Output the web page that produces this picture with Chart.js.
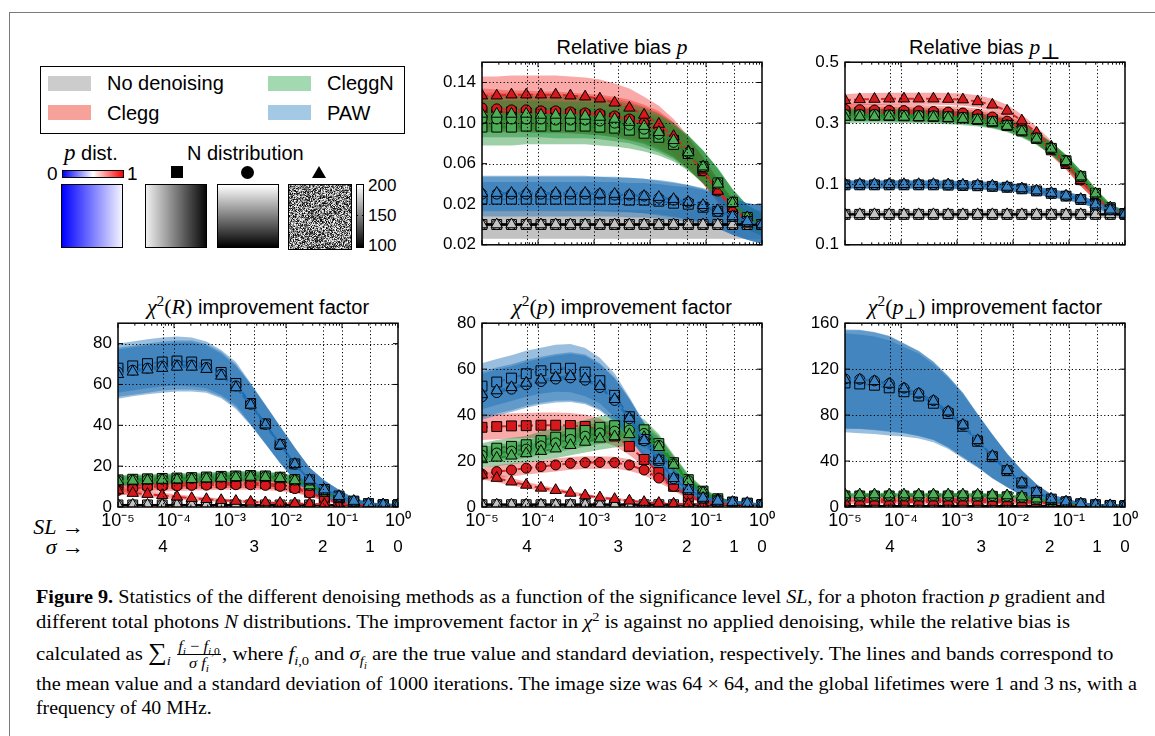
<!DOCTYPE html>
<html>
<head>
<meta charset="utf-8">
<script src="https://cdn.jsdelivr.net/npm/chart.js@4.4.1/dist/chart.umd.min.js"></script>
<style>
  html, body { margin:0; padding:0; background:#fff; }
  body { width:1155px; height:736px; position:relative; overflow:hidden; font-family:"Liberation Sans", Arial, sans-serif; color:#000; }
  .abs { position:absolute; }
  canvas.chart { position:absolute; }
  .frame { position:absolute; left:9px; top:12px; width:1300px; height:900px; border-left:1px solid #7a7a7a; border-top:1px solid #7a7a7a; }
  .lgbox { position:absolute; left:40px; top:66px; width:363px; height:66px; border:1px solid #000; }
  .sw { position:absolute; width:43px; height:15px; }
  .lgt { position:absolute; font-size:20px; line-height:24px; white-space:nowrap; }
  .m { font-family:"Liberation Serif", "DejaVu Serif", serif; }
  .title { position:absolute; width:400px; text-align:center; font-size:20px; line-height:24px; white-space:nowrap; }
  .title .m { font-size:22px; }
  sup, sub { line-height:0; font-size:70%; }
  .sq { position:absolute; border:1px solid #000; box-sizing:border-box; }
  .cap { position:absolute; left:36px; font-family:"Liberation Serif", "DejaVu Serif", serif; font-size:19px; line-height:24px; white-space:nowrap; transform-origin:0 50%; }
  .frac { display:inline-block; vertical-align:middle; text-align:center; font-size:15px; line-height:16px; margin:0 1px; position:relative; top:-1px; }
  .frac .num { display:block; border-bottom:1px solid #000; padding:0 1px; }
  .frac .den { display:block; }
  .sum { font-size:24px; }
</style>
</head>
<body>
<div class="frame"></div>

<!-- legend -->
<div class="lgbox"></div>
<div class="sw" style="left:48px;top:76px;background:#cccccc"></div>
<div class="lgt" style="left:107px;top:71px">No denoising</div>
<div class="sw" style="left:48px;top:105px;background:#f7a19b"></div>
<div class="lgt" style="left:107px;top:101px">Clegg</div>
<div class="sw" style="left:268px;top:76px;background:#a2d9b0"></div>
<div class="lgt" style="left:327px;top:71px">CleggN</div>
<div class="sw" style="left:268px;top:105px;background:#a3c9e4"></div>
<div class="lgt" style="left:327px;top:101px">PAW</div>

<!-- p distribution -->
<div class="lgt" style="left:64px;top:141px"><i class="m" style="font-size:23px">p</i> dist.</div>
<div class="lgt" style="left:47px;top:162px;font-size:19px">0</div>
<div class="sq" style="left:62px;top:170px;width:62px;height:8px;background:linear-gradient(to right,#0000ff,#ffffff,#ff0000)"></div>
<div class="lgt" style="left:127px;top:162px;font-size:19px">1</div>
<div class="sq" style="left:61px;top:184px;width:62px;height:64px;background:linear-gradient(to right,#0000ff,#f3f3ff)"></div>

<!-- N distribution -->
<div class="lgt" style="left:187px;top:141px">N distribution</div>
<div class="abs" style="left:171px;top:166px;width:12px;height:12px;background:#000"></div>
<div class="abs" style="left:241px;top:166px;width:13px;height:13px;background:#000;border-radius:50%"></div>
<div class="abs" style="left:312px;top:166px;width:0;height:0;border-left:7px solid transparent;border-right:7px solid transparent;border-bottom:12px solid #000"></div>
<div class="sq" style="left:145px;top:184px;width:62px;height:64px;background:linear-gradient(to right,#f0f0f0,#080808)"></div>
<div class="sq" style="left:217px;top:184px;width:62px;height:64px;background:linear-gradient(to bottom,#ffffff,#000000)"></div>
<canvas id="noise" width="62" height="64" class="abs" style="left:288px;top:184px;border:1px solid #000;box-sizing:border-box"></canvas>
<div class="sq" style="left:356px;top:184px;width:8px;height:64px;background:linear-gradient(to bottom,#ffffff,#000000)"></div>
<div class="abs" style="left:356px;top:215px;width:2px;height:1px;background:#000"></div>
<div class="abs" style="left:362px;top:215px;width:2px;height:1px;background:#000"></div>
<div class="lgt" style="left:368px;top:174px;font-size:17px">200</div>
<div class="lgt" style="left:368px;top:204px;font-size:17px">150</div>
<div class="lgt" style="left:368px;top:234px;font-size:17px">100</div>

<!-- panel titles -->
<div class="title" style="left:422px;top:35px">Relative bias <i class="m">p</i></div>
<div class="title" style="left:785px;top:35px">Relative bias <i class="m">p</i><sub class="m">⊥</sub></div>
<div class="title" style="left:58px;top:295px"><span class="m"><i>χ</i><sup>2</sup>(<i>R</i>)</span> improvement factor</div>
<div class="title" style="left:422px;top:295px"><span class="m"><i>χ</i><sup>2</sup>(<i>p</i>)</span> improvement factor</div>
<div class="title" style="left:785px;top:295px"><span class="m"><i>χ</i><sup>2</sup>(<i>p</i><sub>⊥</sub>)</span> improvement factor</div>

<!-- axis row labels -->
<div class="lgt m" style="left:30px;top:515px;width:54px;text-align:right;font-size:22px"><i>SL</i> →</div>
<div class="lgt m" style="left:30px;top:535px;width:54px;text-align:right;font-size:22px"><i>σ</i> →</div>

<!-- charts -->
<canvas id="cP"  class="chart" width="364" height="215" style="left:422px;top:46px"></canvas>
<canvas id="cPp" class="chart" width="364" height="215" style="left:785px;top:46px"></canvas>
<canvas id="cR"  class="chart" width="364" height="252" style="left:58px;top:307px"></canvas>
<canvas id="cXp" class="chart" width="364" height="252" style="left:422px;top:307px"></canvas>
<canvas id="cXpp" class="chart" width="364" height="252" style="left:785px;top:307px"></canvas>

<!-- caption -->
<div class="cap" data-w="1069" style="top:585px"><b>Figure 9.</b> Statistics of the different denoising methods as a function of the significance level <i>SL</i>, for a photon fraction <i>p</i> gradient and</div>
<div class="cap" data-w="1034" style="top:610px">different total photons <i>N</i> distributions. The improvement factor in <i>χ</i><sup>2</sup> is against no applied denoising, while the relative bias is</div>
<div class="cap" data-w="1077" style="top:639px">calculated as <span class="sum">∑</span><sub><i>i</i></sub> <span class="frac"><span class="num"><i>f</i><sub><i>i</i></sub> − <i>f</i><sub><i>i</i>,0</sub></span><span class="den"><i>σ</i> <i>f</i><sub><i>i</i></sub></span></span>, where <i>f</i><sub><i>i</i>,0</sub> and <i>σ</i><sub><i>f</i><sub><i>i</i></sub></sub> are the true value and standard deviation, respectively. The lines and bands correspond to</div>
<div class="cap" data-w="1101" style="top:672px">the mean value and a standard deviation of 1000 iterations. The image size was 64 × 64, and the global lifetimes were 1 and 3 ns, with a</div>
<div class="cap" data-w="176" style="top:696px">frequency of 40 MHz.</div>

<script>
// ---------------- data ----------------
const SL = [1e-5, 1.833e-5, 3.360e-5, 6.158e-5, 1.129e-4, 2.069e-4, 3.793e-4, 6.952e-4, 1.274e-3, 2.336e-3,
            4.281e-3, 7.848e-3, 1.438e-2, 2.637e-2, 4.833e-2, 8.859e-2, 0.1624, 0.2976, 0.5456, 1];
const DECADES = [1e-5, 1e-4, 1e-3, 1e-2, 1e-1, 1];
const DECADE_LABELS = ['10⁻⁵', '10⁻⁴', '10⁻³', '10⁻²', '10⁻¹', '10⁰'];
const SIGMA_SL = [6.334e-5, 2.700e-3, 4.550e-2, 0.3173, 1];
const SIGMA_LABELS = ['4', '3', '2', '1', '0'];

// Relative bias p
const biasP_ticks = [-0.02, 0.02, 0.06, 0.10, 0.14];
const biasP_tickLabels = ['0.02', '0.02', '0.06', '0.10', '0.14'];
const biasP_none = [0,0,0,0,0,0,0,0,0,0,0,0,0,0,0,0,0,0,0,0];
const biasP_clegg_sq = [0.111,0.111,0.111,0.110,0.110,0.110,0.109,0.108,0.107,0.105,0.102,0.098,0.092,0.083,0.070,0.053,0.034,0.017,0.005,0.000];
const biasP_clegg_ci = [0.115,0.114,0.113,0.113,0.112,0.112,0.111,0.110,0.109,0.107,0.104,0.100,0.094,0.084,0.070,0.053,0.033,0.016,0.005,0.000];
const biasP_clegg_tr = [0.127,0.127,0.128,0.128,0.128,0.128,0.127,0.126,0.124,0.120,0.115,0.108,0.099,0.087,0.072,0.054,0.033,0.015,0.004,0.000];
const biasP_cleggn_sq = [0.096,0.096,0.096,0.097,0.097,0.097,0.097,0.097,0.096,0.095,0.093,0.090,0.086,0.079,0.070,0.057,0.041,0.022,0.007,0.000];
const biasP_cleggn_ci = [0.104,0.104,0.104,0.104,0.104,0.103,0.103,0.103,0.102,0.100,0.098,0.094,0.089,0.081,0.071,0.057,0.040,0.022,0.007,0.000];
const biasP_cleggn_tr = [0.109,0.109,0.109,0.109,0.108,0.108,0.108,0.107,0.106,0.104,0.101,0.097,0.091,0.083,0.071,0.057,0.040,0.021,0.007,0.000];
const biasP_paw_sq = [0.025,0.025,0.025,0.025,0.025,0.025,0.025,0.025,0.025,0.025,0.024,0.024,0.023,0.021,0.020,0.017,0.013,0.008,0.003,0.000];
const biasP_paw_ci = [0.030,0.030,0.030,0.030,0.030,0.030,0.030,0.030,0.030,0.029,0.029,0.028,0.026,0.024,0.022,0.018,0.013,0.008,0.003,0.000];
const biasP_paw_tr = [0.031,0.031,0.031,0.031,0.031,0.031,0.031,0.031,0.030,0.030,0.029,0.028,0.027,0.025,0.022,0.019,0.014,0.008,0.003,0.000];
const biasP_sd_none = [0.014,0.014,0.014,0.014,0.014,0.014,0.014,0.014,0.014,0.014,0.014,0.014,0.014,0.014,0.014,0.014,0.014,0.014,0.014,0.014];
const biasP_sd_clegg = [0.019,0.019,0.019,0.019,0.019,0.019,0.019,0.019,0.019,0.019,0.019,0.018,0.018,0.017,0.015,0.013,0.011,0.009,0.008,0.007];
const biasP_sd_cleggn = [0.018,0.018,0.018,0.018,0.018,0.018,0.018,0.018,0.018,0.018,0.018,0.018,0.018,0.017,0.017,0.016,0.015,0.013,0.012,0.011];
const biasP_sd_paw = [0.017,0.017,0.017,0.017,0.017,0.017,0.017,0.017,0.017,0.017,0.017,0.017,0.017,0.017,0.017,0.017,0.017,0.018,0.018,0.019];

// Relative bias p_perp
const biasPp_ticks = [-0.1, 0.1, 0.3, 0.5];
const biasPp_tickLabels = ['0.1', '0.1', '0.3', '0.5'];
const biasPp_none = [0,0,0,0,0,0,0,0,0,0,0,0,0,0,0,0,0,0,0,0];
const biasPp_clegg_sq = [0.336,0.335,0.334,0.334,0.333,0.332,0.330,0.328,0.325,0.320,0.312,0.298,0.278,0.250,0.212,0.167,0.114,0.061,0.019,0.003];
const biasPp_clegg_ci = [0.345,0.344,0.343,0.342,0.341,0.340,0.338,0.336,0.333,0.328,0.320,0.306,0.284,0.255,0.215,0.168,0.113,0.060,0.018,0.003];
const biasPp_clegg_tr = [0.375,0.378,0.379,0.380,0.380,0.380,0.380,0.379,0.377,0.371,0.360,0.340,0.308,0.268,0.222,0.170,0.112,0.058,0.017,0.003];
const biasPp_cleggn_sq = [0.326,0.326,0.326,0.325,0.324,0.323,0.322,0.320,0.317,0.312,0.304,0.292,0.274,0.250,0.217,0.176,0.125,0.069,0.022,0.003];
const biasPp_cleggn_ci = [0.328,0.328,0.328,0.327,0.326,0.325,0.324,0.322,0.319,0.314,0.306,0.294,0.276,0.251,0.218,0.176,0.125,0.069,0.022,0.003];
const biasPp_cleggn_tr = [0.320,0.321,0.321,0.321,0.320,0.319,0.318,0.316,0.313,0.309,0.302,0.290,0.272,0.248,0.215,0.174,0.124,0.068,0.022,0.003];
const biasPp_paw_sq = [0.097,0.097,0.097,0.097,0.097,0.097,0.097,0.096,0.095,0.094,0.092,0.089,0.084,0.077,0.069,0.060,0.049,0.031,0.015,0.001];
const biasPp_paw_ci = [0.098,0.098,0.098,0.098,0.098,0.098,0.098,0.097,0.096,0.095,0.093,0.090,0.085,0.078,0.070,0.061,0.050,0.032,0.015,0.001];
const biasPp_paw_tr = [0.099,0.099,0.099,0.099,0.099,0.099,0.099,0.098,0.097,0.096,0.094,0.090,0.085,0.078,0.070,0.061,0.050,0.032,0.015,0.001];
const biasPp_sd_none = [0.012,0.012,0.012,0.012,0.012,0.012,0.012,0.012,0.012,0.012,0.012,0.012,0.012,0.012,0.012,0.012,0.012,0.012,0.012,0.012];
const biasPp_sd_clegg = [0.020,0.020,0.020,0.020,0.020,0.020,0.020,0.020,0.020,0.020,0.020,0.020,0.020,0.020,0.020,0.020,0.020,0.015,0.010,0.008];
const biasPp_sd_cleggn = [0.020,0.020,0.020,0.020,0.020,0.020,0.020,0.020,0.020,0.020,0.020,0.020,0.020,0.020,0.020,0.020,0.019,0.016,0.012,0.009];
const biasPp_sd_paw = [0.013,0.013,0.013,0.013,0.013,0.013,0.013,0.013,0.013,0.013,0.013,0.013,0.013,0.013,0.013,0.013,0.013,0.012,0.011,0.010];

// chi2(R) improvement factor
const chiR_ticks = [0, 20, 40, 60, 80];
const chiR_tickLabels = ['0', '20', '40', '60', '80'];
const chiR_none = [1,1,1,1,1,1,1,1,1,1,1,1,1,1,1,1,1,1,1,1];
const chiR_clegg_sq = [9.5,10.3,10.8,11.1,11.3,11.5,11.6,11.8,11.8,11.8,11.5,10.9,9.6,7.2,4.3,2.3,1.5,1.2,1.05,1.0];
const chiR_clegg_ci = [8.1,9.0,9.8,10.1,10.3,10.6,10.7,10.9,10.9,10.9,10.6,10.1,9.0,6.9,4.1,2.2,1.5,1.2,1.05,1.0];
const chiR_clegg_tr = [8.1,6.8,6.3,5.7,5.0,4.3,3.8,3.3,2.9,2.5,2.2,1.9,1.7,1.5,1.3,1.2,1.1,1.05,1.0,1.0];
const chiR_cleggn_sq = [13.3,13.6,13.8,14.0,14.2,14.4,14.7,15.0,15.2,15.4,15.2,14.6,13.4,10.8,7.6,4.6,2.6,1.6,1.1,1.0];
const chiR_cleggn_ci = [12.9,13.2,13.4,13.6,13.8,14.0,14.3,14.6,14.9,15.0,14.9,14.3,13.2,10.6,7.5,4.5,2.6,1.6,1.1,1.0];
const chiR_cleggn_tr = [12.5,12.8,13.0,13.2,13.4,13.6,13.9,14.2,14.5,14.7,14.6,14.1,13.0,10.5,7.5,4.5,2.6,1.6,1.1,1.0];
const chiR_paw_sq = [68.0,69.1,70.2,71.0,71.5,71.0,69.6,65.9,60.5,50.7,40.7,30.6,21.1,13.3,8.6,5.4,2.9,1.6,1.1,1.0];
const chiR_paw_ci = [66.0,67.0,68.0,69.0,69.5,69.5,68.3,65.0,59.3,50.3,40.5,30.5,21.0,13.2,8.5,5.3,2.9,1.6,1.1,1.0];
const chiR_paw_tr = [65.0,66.2,67.2,68.0,68.6,68.6,67.5,64.2,58.5,50.0,40.3,30.4,21.0,13.2,8.5,5.3,2.9,1.6,1.1,1.0];
const chiR_sd_none = [0.6,0.6,0.6,0.6,0.6,0.6,0.6,0.6,0.6,0.6,0.6,0.6,0.6,0.6,0.6,0.6,0.6,0.6,0.6,0.6];
const chiR_sd_clegg = [2.5,2.5,2.5,2.5,2.5,2.5,2.5,2.5,2.5,2.5,2.4,2.3,2.1,1.8,1.3,0.8,0.5,0.3,0.2,0.1];
const chiR_sd_clegg_tr = [1.6,1.5,1.4,1.3,1.2,1.1,1.0,0.9,0.8,0.7,0.6,0.5,0.4,0.3,0.3,0.2,0.2,0.1,0.1,0.1];
const chiR_sd_cleggn = [2.3,2.3,2.3,2.3,2.3,2.3,2.3,2.3,2.3,2.3,2.2,2.1,2.0,1.8,1.5,1.0,0.6,0.4,0.3,0.2];
const chiR_sd_paw = [12,12,12,12,12,12,11.5,11,10.5,10,9.5,9,8,6,4.5,3,1.5,0.8,0.5,0.3];

// chi2(p) improvement factor
const chiP_ticks = [0, 20, 40, 60, 80];
const chiP_tickLabels = ['0', '20', '40', '60', '80'];
const chiP_none = [1,1,1,1,1,1,1,1,1,1,1,1,1,1,1,1,1,1,1,1];
const chiP_clegg_sq = [34.7,35.0,35.3,35.4,35.6,35.6,35.5,35.1,33.7,30.9,26.4,20.7,15.0,9.0,4.6,2.4,1.7,1.4,1.2,1.0];
const chiP_clegg_ci = [14.3,15.4,16.1,16.9,17.6,18.3,19.0,19.3,19.4,19.3,18.3,16.1,12.6,9.0,5.4,2.9,1.7,1.4,1.2,1.0];
const chiP_clegg_tr = [14.0,12.6,11.0,9.6,8.3,7.3,6.1,5.0,4.1,3.4,2.7,2.1,1.7,1.4,1.3,1.2,1.1,1.05,1.0,1.0];
const chiP_cleggn_sq = [24.3,25.6,26.4,27.1,28.9,30.4,31.9,33.3,34.7,35.4,35.4,33.6,27.6,19.3,11.9,6.9,3.6,2.1,1.5,1.0];
const chiP_cleggn_ci = [22.5,23.5,24.3,25.2,26.6,27.9,29.4,30.8,32.2,33.0,33.5,32.0,26.8,18.8,11.5,6.6,3.3,2.0,1.45,1.0];
const chiP_cleggn_tr = [20.7,21.4,22.3,23.3,24.3,25.4,26.9,28.3,29.7,30.7,31.6,30.4,26.0,18.3,11.0,6.3,3.1,1.9,1.4,1.0];
const chiP_paw_sq = [52.6,54.4,56.1,58.0,59.3,60.4,60.4,58.7,55.0,48.6,39.3,29.4,20.4,12.1,7.6,3.9,2.6,2.1,1.7,1.0];
const chiP_paw_ci = [48.0,49.8,51.3,53.2,54.6,55.7,56.2,55.2,52.0,46.4,38.4,28.8,20.2,12.3,7.5,3.9,2.6,2.1,1.7,1.0];
const chiP_paw_tr = [49.0,50.7,52.1,54.0,55.4,56.4,56.9,55.9,52.6,46.9,38.7,29.0,20.4,12.5,7.6,3.9,2.6,2.1,1.7,1.0];
const chiP_sd_none = [0.6,0.6,0.6,0.6,0.6,0.6,0.6,0.6,0.6,0.6,0.6,0.6,0.6,0.6,0.6,0.6,0.6,0.6,0.6,0.6];
const chiP_sd_clegg_sq = [5.5,5.5,5.5,5.5,5.5,5.5,5.4,5.2,4.8,4.3,3.8,3.2,2.6,1.9,1.2,0.7,0.4,0.3,0.2,0.1];
const chiP_sd_clegg_ci = [2.8,2.8,2.8,2.8,2.8,2.8,2.8,2.8,2.7,2.6,2.5,2.3,2.0,1.6,1.1,0.7,0.4,0.3,0.2,0.1];
const chiP_sd_clegg_tr = [2.0,1.8,1.6,1.4,1.2,1.0,0.9,0.8,0.7,0.6,0.5,0.4,0.3,0.3,0.2,0.2,0.1,0.1,0.1,0.1];
const chiP_sd_cleggn = [3.5,3.6,3.7,3.8,4.0,4.2,4.4,4.6,4.8,4.8,4.8,4.6,4.2,3.5,2.5,1.5,1.0,0.6,0.4,0.3];
const chiP_sd_paw = [10,10,10,10,10,10.2,10.5,10.5,10,9.5,8.5,7.5,6,4.5,3,2,1.2,0.8,0.5,0.3];

// chi2(p_perp) improvement factor
const chiPp_ticks = [0, 40, 80, 120, 160];
const chiPp_tickLabels = ['0', '40', '80', '120', '160'];
const chiPp_none = [1,1,1,1,1,1,1,1,1,1,1,1,1,1,1,1,1,1,1,1];
const chiPp_clegg_sq = [6.8,6.8,6.8,6.8,6.8,6.8,6.8,6.8,6.8,6.7,6.6,6.3,5.8,5.0,4.0,3.0,2.1,1.5,1.2,1.0];
const chiPp_clegg_ci = [6.2,6.2,6.2,6.2,6.2,6.2,6.2,6.2,6.2,6.1,6.0,5.8,5.4,4.7,3.8,2.9,2.0,1.5,1.2,1.0];
const chiPp_clegg_tr = [4.3,4.3,4.3,4.3,4.3,4.3,4.3,4.3,4.3,4.3,4.2,4.1,3.9,3.5,3.0,2.4,1.8,1.4,1.1,1.0];
const chiPp_cleggn_sq = [9.6,9.6,9.6,9.6,9.6,9.6,9.6,9.6,9.6,9.5,9.3,8.9,8.1,6.6,4.7,3.2,2.1,1.5,1.2,1.0];
const chiPp_cleggn_ci = [10.2,10.2,10.2,10.2,10.2,10.2,10.2,10.2,10.2,10.1,9.9,9.5,8.6,6.9,4.9,3.3,2.2,1.6,1.2,1.0];
const chiPp_cleggn_tr = [10.8,10.8,10.8,10.8,10.8,10.8,10.8,10.8,10.8,10.7,10.5,10.0,9.0,7.2,5.0,3.3,2.2,1.6,1.2,1.0];
const chiPp_paw_sq = [108.0,107.1,106.0,103.7,100.3,96.6,90.3,81.4,70.3,57.2,43.8,31.6,20.9,12.8,6.9,4.6,2.9,2.0,1.4,1.1];
const chiPp_paw_ci = [111.5,111.2,109.8,107.5,103.5,99.0,92.6,83.1,71.5,58.0,44.3,32.0,21.1,12.9,6.9,4.6,2.9,2.0,1.4,1.1];
const chiPp_paw_tr = [110.9,110.9,109.4,107.1,103.1,98.6,92.3,82.9,71.4,58.0,44.3,32.0,21.1,12.9,6.9,4.6,2.9,2.0,1.4,1.1];
const chiPp_sd_none = [0.6,0.6,0.6,0.6,0.6,0.6,0.6,0.6,0.6,0.6,0.6,0.6,0.6,0.6,0.6,0.6,0.6,0.6,0.6,0.6];
const chiPp_sd_clegg = [2.0,2.0,2.0,2.0,2.0,2.0,2.0,2.0,2.0,2.0,2.0,1.9,1.8,1.6,1.3,1.0,0.7,0.5,0.3,0.2];
const chiPp_sd_cleggn = [1.5,1.5,1.5,1.5,1.5,1.5,1.5,1.5,1.5,1.5,1.5,1.4,1.3,1.1,0.9,0.7,0.5,0.4,0.3,0.2];
const chiPp_sd_paw = [43,43,42.5,41.5,39,37,34,31,28,23,19,14.5,11,7,4,2.5,1.2,0.8,0.5,0.3];

// ---------------- styles ----------------
const FONT = '"Liberation Sans", Arial, sans-serif';
const METHODS = ['none', 'clegg', 'cleggn', 'paw'];
const SHAPES = ['rect', 'circle', 'triangle'];
const RADIUS = { rect: 7, circle: 5, triangle: 6.5 };
const STYLE = {
  none:   { band: 'rgba(128,128,128,0.20)', line: '#000000', lw: 1.8, dash: [],     marker: '#c4c4c4' },
  clegg:  { band: 'rgba(240,50,45,0.42)',   line: '#d62728', lw: 2,   dash: [6, 3], marker: '#d7191c' },
  cleggn: { band: 'rgba(25,140,45,0.42)',   line: '#238b2f', lw: 2,   dash: [6, 3], marker: '#4cae55' },
  paw:    { band: 'rgba(31,110,180,0.45)',  line: '#1f6fb4', lw: 2,   dash: [6, 3], marker: '#3a84c6' }
};

const PANELS = [
  { id: 'cP', min: -0.02, max: 0.16, ticks: biasP_ticks, labels: biasP_tickLabels, xLabels: false,
    series: {
      none:   { rect: [biasP_none, biasP_sd_none], circle: [biasP_none, biasP_sd_none], triangle: [biasP_none, biasP_sd_none] },
      clegg:  { rect: [biasP_clegg_sq, biasP_sd_clegg], circle: [biasP_clegg_ci, biasP_sd_clegg], triangle: [biasP_clegg_tr, biasP_sd_clegg] },
      cleggn: { rect: [biasP_cleggn_sq, biasP_sd_cleggn], circle: [biasP_cleggn_ci, biasP_sd_cleggn], triangle: [biasP_cleggn_tr, biasP_sd_cleggn] },
      paw:    { rect: [biasP_paw_sq, biasP_sd_paw], circle: [biasP_paw_ci, biasP_sd_paw], triangle: [biasP_paw_tr, biasP_sd_paw] } } },
  { id: 'cPp', min: -0.1, max: 0.5, ticks: biasPp_ticks, labels: biasPp_tickLabels, xLabels: false,
    series: {
      none:   { rect: [biasPp_none, biasPp_sd_none], circle: [biasPp_none, biasPp_sd_none], triangle: [biasPp_none, biasPp_sd_none] },
      clegg:  { rect: [biasPp_clegg_sq, biasPp_sd_clegg], circle: [biasPp_clegg_ci, biasPp_sd_clegg], triangle: [biasPp_clegg_tr, biasPp_sd_clegg] },
      cleggn: { rect: [biasPp_cleggn_sq, biasPp_sd_cleggn], circle: [biasPp_cleggn_ci, biasPp_sd_cleggn], triangle: [biasPp_cleggn_tr, biasPp_sd_cleggn] },
      paw:    { rect: [biasPp_paw_sq, biasPp_sd_paw], circle: [biasPp_paw_ci, biasPp_sd_paw], triangle: [biasPp_paw_tr, biasPp_sd_paw] } } },
  { id: 'cR', min: 0, max: 90, ticks: chiR_ticks, labels: chiR_tickLabels, xLabels: true,
    series: {
      none:   { rect: [chiR_none, chiR_sd_none], circle: [chiR_none, chiR_sd_none], triangle: [chiR_none, chiR_sd_none] },
      clegg:  { rect: [chiR_clegg_sq, chiR_sd_clegg], circle: [chiR_clegg_ci, chiR_sd_clegg], triangle: [chiR_clegg_tr, chiR_sd_clegg_tr] },
      cleggn: { rect: [chiR_cleggn_sq, chiR_sd_cleggn], circle: [chiR_cleggn_ci, chiR_sd_cleggn], triangle: [chiR_cleggn_tr, chiR_sd_cleggn] },
      paw:    { rect: [chiR_paw_sq, chiR_sd_paw], circle: [chiR_paw_ci, chiR_sd_paw], triangle: [chiR_paw_tr, chiR_sd_paw] } } },
  { id: 'cXp', min: 0, max: 80, ticks: chiP_ticks, labels: chiP_tickLabels, xLabels: true,
    series: {
      none:   { rect: [chiP_none, chiP_sd_none], circle: [chiP_none, chiP_sd_none], triangle: [chiP_none, chiP_sd_none] },
      clegg:  { rect: [chiP_clegg_sq, chiP_sd_clegg_sq], circle: [chiP_clegg_ci, chiP_sd_clegg_ci], triangle: [chiP_clegg_tr, chiP_sd_clegg_tr] },
      cleggn: { rect: [chiP_cleggn_sq, chiP_sd_cleggn], circle: [chiP_cleggn_ci, chiP_sd_cleggn], triangle: [chiP_cleggn_tr, chiP_sd_cleggn] },
      paw:    { rect: [chiP_paw_sq, chiP_sd_paw], circle: [chiP_paw_ci, chiP_sd_paw], triangle: [chiP_paw_tr, chiP_sd_paw] } } },
  { id: 'cXpp', min: 0, max: 160, ticks: chiPp_ticks, labels: chiPp_tickLabels, xLabels: true,
    series: {
      none:   { rect: [chiPp_none, chiPp_sd_none], circle: [chiPp_none, chiPp_sd_none], triangle: [chiPp_none, chiPp_sd_none] },
      clegg:  { rect: [chiPp_clegg_sq, chiPp_sd_clegg], circle: [chiPp_clegg_ci, chiPp_sd_clegg], triangle: [chiPp_clegg_tr, chiPp_sd_clegg] },
      cleggn: { rect: [chiPp_cleggn_sq, chiPp_sd_cleggn], circle: [chiPp_cleggn_ci, chiPp_sd_cleggn], triangle: [chiPp_cleggn_tr, chiPp_sd_cleggn] },
      paw:    { rect: [chiPp_paw_sq, chiPp_sd_paw], circle: [chiPp_paw_ci, chiPp_sd_paw], triangle: [chiPp_paw_tr, chiPp_sd_paw] } } }
];

// ---------------- matplotlib-like axes decoration ----------------
const mplAxes = {
  id: 'mplAxes',
  afterDatasetsDraw(chart, args, opts) {
    const { ctx, chartArea: a } = chart;
    const xs = chart.scales.x, ys = chart.scales.y;
    ctx.save();
    ctx.strokeStyle = '#000';
    ctx.lineWidth = 1;
    ctx.setLineDash([1.2, 2.4]);
    ctx.beginPath();
    DECADES.concat(SIGMA_SL).forEach(v => {
      const px = Math.round(xs.getPixelForValue(v)) + 0.5;
      if (px > a.left + 2 && px < a.right - 2) { ctx.moveTo(px, a.top); ctx.lineTo(px, a.bottom); }
    });
    opts.yTicks.forEach(v => {
      const py = Math.round(ys.getPixelForValue(v)) + 0.5;
      if (py > a.top + 2 && py < a.bottom - 2) { ctx.moveTo(a.left, py); ctx.lineTo(a.right, py); }
    });
    ctx.stroke();
    ctx.setLineDash([]);
    ctx.beginPath();
    DECADES.forEach((d, i) => {
      const px = xs.getPixelForValue(d);
      ctx.moveTo(px, a.bottom); ctx.lineTo(px, a.bottom - 5);
      ctx.moveTo(px, a.top); ctx.lineTo(px, a.top + 5);
      if (i < DECADES.length - 1) {
        for (let k = 2; k < 10; k++) {
          const pm = xs.getPixelForValue(d * k);
          ctx.moveTo(pm, a.bottom); ctx.lineTo(pm, a.bottom - 2.5);
          ctx.moveTo(pm, a.top); ctx.lineTo(pm, a.top + 2.5);
        }
      }
    });
    opts.yTicks.forEach(v => {
      const py = ys.getPixelForValue(v);
      ctx.moveTo(a.left, py); ctx.lineTo(a.left + 5, py);
      ctx.moveTo(a.right, py); ctx.lineTo(a.right - 5, py);
    });
    ctx.stroke();
    ctx.lineWidth = 1.5;
    ctx.strokeRect(a.left, a.top, a.right - a.left, a.bottom - a.top);
    ctx.restore();
  }
};

function buildDatasets(series) {
  const ds = [];
  METHODS.forEach((m, mi) => {
    SHAPES.forEach((shape, si) => {
      const [mean, sd] = series[m][shape];
      const ord = 200 - mi * 10 - si;
      ds.push({ data: SL.map((x, i) => ({ x, y: mean[i] + sd[i] })), borderWidth: 0, borderColor: 'transparent',
                pointRadius: 0, fill: false, order: ord, clip: 0 });
      ds.push({ data: SL.map((x, i) => ({ x, y: mean[i] - sd[i] })), borderWidth: 0, borderColor: 'transparent',
                pointRadius: 0, fill: '-1', backgroundColor: STYLE[m].band, order: ord, clip: 0 });
    });
  });
  METHODS.forEach((m, mi) => {
    SHAPES.forEach((shape, si) => {
      const [mean] = series[m][shape];
      const st = STYLE[m];
      ds.push({ data: SL.map((x, i) => ({ x, y: mean[i] })), borderColor: st.line, borderWidth: st.lw, borderDash: st.dash,
                pointStyle: shape, pointRadius: RADIUS[shape], pointBackgroundColor: st.marker,
                pointBorderColor: '#000', pointBorderWidth: 1, fill: false, order: 100 - mi * 10 - si, clip: 0 });
    });
  });
  return ds;
}

function makeChart(p) {
  const scales = {
    x: {
      type: 'logarithmic', min: 1e-5, max: 1, position: 'bottom',
      grid: { display: false, drawTicks: false }, border: { display: false },
      afterBuildTicks: s => { s.ticks = DECADES.map(v => ({ value: v })); },
      ticks: { display: p.xLabels, autoSkip: false, maxRotation: 0, minRotation: 0, padding: 3,
               font: { family: FONT, size: 18 }, color: '#000', callback: (v, i) => DECADE_LABELS[i] },
      afterFit: s => { s.height = p.xLabels ? 24 : 0; }
    },
    y: {
      type: 'linear', min: p.min, max: p.max, position: 'left',
      grid: { display: false, drawTicks: false }, border: { display: false },
      afterBuildTicks: s => { s.ticks = p.ticks.map(v => ({ value: v })); },
      ticks: { padding: 6, autoSkip: false, font: { family: FONT, size: 17 }, color: '#000', callback: (v, i) => p.labels[i] },
      afterFit: s => { s.width = 60; }
    }
  };
  if (p.xLabels) {
    scales.x2 = {
      type: 'logarithmic', min: 1e-5, max: 1, position: 'bottom', weight: 1,
      grid: { display: false, drawTicks: false }, border: { display: false },
      afterBuildTicks: s => { s.ticks = SIGMA_SL.map(v => ({ value: v })); },
      ticks: { autoSkip: false, maxRotation: 0, minRotation: 0, padding: 6,
               font: { family: FONT, size: 17 }, color: '#000', callback: (v, i) => SIGMA_LABELS[i] },
      afterFit: s => { s.height = 28; }
    };
  }
  new Chart(document.getElementById(p.id), {
    type: 'line',
    data: { datasets: buildDatasets(p.series) },
    options: {
      responsive: false, animation: false, devicePixelRatio: 1, events: [],
      layout: { padding: { left: 0, top: 14, right: 24, bottom: p.xLabels ? 0 : 14 } },
      plugins: { legend: { display: false }, tooltip: { enabled: false }, title: { display: false },
                 mplAxes: { yTicks: p.ticks } },
      scales
    },
    plugins: [mplAxes]
  });
}

PANELS.forEach(makeChart);

// noise texture for the random N distribution swatch (deterministic LCG)
(function () {
  const c = document.getElementById('noise');
  const g = c.getContext('2d');
  const img = g.createImageData(c.width, c.height);
  let s = 12345;
  for (let i = 0; i < c.width * c.height; i++) {
    s = (s * 1103515245 + 12345) % 2147483648;
    const v = Math.floor((s / 2147483648) * 256);
    img.data[i * 4] = v; img.data[i * 4 + 1] = v; img.data[i * 4 + 2] = v; img.data[i * 4 + 3] = 255;
  }
  g.putImageData(img, 0, 0);
})();

// fit caption lines to their measured widths
document.querySelectorAll('.cap').forEach(el => {
  const w = el.scrollWidth;
  const target = parseFloat(el.dataset.w);
  el.style.transform = 'scaleX(' + (target / w).toFixed(4) + ')';
});
</script>
</body>
</html>
